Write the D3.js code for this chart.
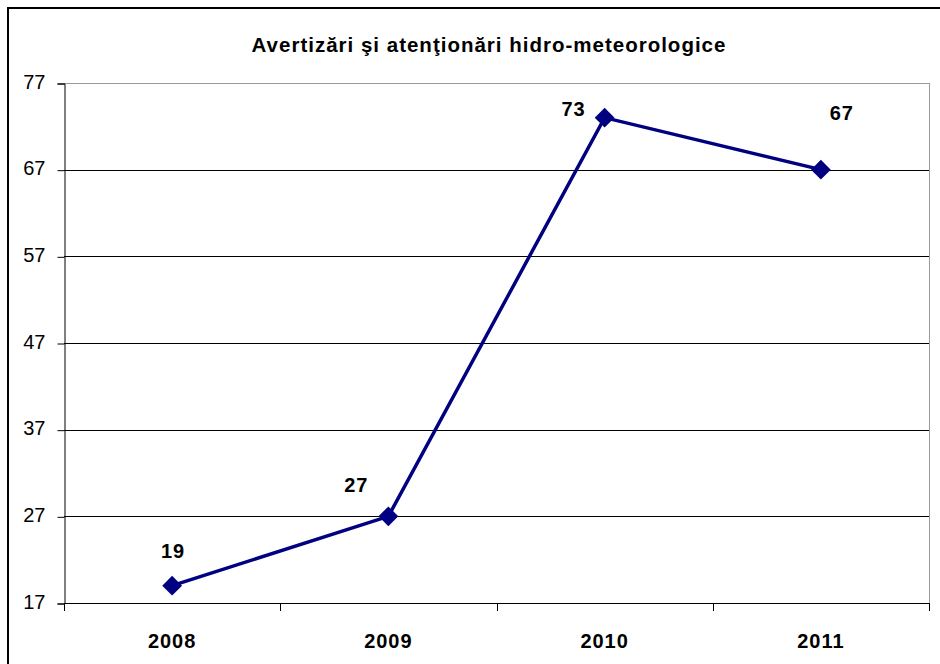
<!DOCTYPE html>
<html>
<head>
<meta charset="utf-8">
<script src="https://cdn.jsdelivr.net/npm/d3@7"></script>
<style>
  body { margin: 0; background: #fff; }
  svg { display: block; font-family: "Liberation Sans", Arial, sans-serif; }
</style>
</head>
<body>
<div id="chart"></div>
<script>
var title = "Avertizări şi atenţionări hidro-meteorologice";
var years = ["2008", "2009", "2010", "2011"];
var values = [19, 27, 73, 67];
var yTicks = [17, 27, 37, 47, 57, 67, 77];
// hand-placed label nudges (dx, dy from the marker)
var labelNudge = [[1, -28], [-32, -24], [-31, -2], [21, -50]];

var width = 940, height = 664,
    margins = {top: 83, right: 11, bottom: 61, left: 64};

var svg = d3.select("#chart").append("svg")
    .attr("width", width)
    .attr("height", height);

// outer chart frame (runs off the right and bottom edges)
svg.append("rect")
    .attr("x", 8).attr("y", 8)
    .attr("width", width + 20).attr("height", height + 20)
    .attr("fill", "none").attr("stroke", "#000").attr("stroke-width", 2);

svg.append("text")
    .attr("x", 489).attr("y", 52)
    .attr("text-anchor", "middle")
    .style("font-weight", "bold").style("font-size", "20.5px")
    .style("letter-spacing", "1px")
    .text(title);

var x = d3.scaleBand()
    .domain(years)
    .range([margins.left, width - margins.right]);

var y = d3.scaleLinear()
    .domain([17, 77])
    .range([height - margins.bottom, margins.top]);

var plotRight = width - margins.right;

// grid lines
svg.append("g").selectAll("line")
    .data(yTicks.slice(1))
    .enter().append("line")
    .attr("x1", margins.left).attr("x2", plotRight)
    .attr("y1", function(d) { return Math.round(y(d)) + 0.5; })
    .attr("y2", function(d) { return Math.round(y(d)) + 0.5; })
    .attr("stroke", function(d) { return d === 77 ? "#999" : "#000"; })
    .attr("stroke-width", 1);

svg.append("line")
    .attr("x1", plotRight + 0.5).attr("x2", plotRight + 0.5)
    .attr("y1", margins.top).attr("y2", height - margins.bottom)
    .attr("stroke", "#999");

var yAxis = d3.axisLeft(y)
    .tickValues(yTicks)
    .tickSize(7)
    .tickPadding(12);

svg.append("g")
    .attr("class", "y axis")
    .attr("transform", "translate(" + (margins.left + 0.5) + ",0.5)")
    .call(yAxis)
    .call(function(g) {
        g.selectAll("text").style("font-size", "20px").attr("dy", "0.24em").attr("fill", "#000");
        g.selectAll("line, path").attr("stroke", "#000");
    });

var bounds = years.map(function(d) { return x(d); }).concat([plotRight]);

var xg = svg.append("g")
    .attr("class", "x axis");

xg.append("line")
    .attr("x1", margins.left).attr("x2", plotRight)
    .attr("y1", height - margins.bottom + 0.5).attr("y2", height - margins.bottom + 0.5)
    .attr("stroke", "#000");

xg.selectAll(".tick").data(bounds)
    .enter().append("line")
    .attr("class", "tick")
    .attr("x1", function(d) { return Math.round(d) + 0.5; })
    .attr("x2", function(d) { return Math.round(d) + 0.5; })
    .attr("y1", height - margins.bottom)
    .attr("y2", height - margins.bottom + 8)
    .attr("stroke", "#000");

xg.selectAll("text").data(years)
    .enter().append("text")
    .attr("x", function(d) { return x(d) + x.bandwidth() / 2; })
    .attr("y", height - margins.bottom + 45)
    .attr("text-anchor", "middle")
    .style("font-weight", "bold").style("font-size", "20px")
    .style("letter-spacing", "1px")
    .text(function(d) { return d; });

var pts = years.map(function(d, i) {
    return {year: d, value: values[i], nudge: labelNudge[i]};
});

var line = d3.line()
    .x(function(d) { return x(d.year) + x.bandwidth() / 2; })
    .y(function(d) { return y(d.value); });

svg.append("path")
    .datum(pts)
    .attr("d", line)
    .attr("fill", "none")
    .attr("stroke", "#000080")
    .attr("stroke-width", 3.5);

svg.selectAll(".marker").data(pts)
    .enter().append("path")
    .attr("class", "marker")
    .attr("d", d3.symbol().type(d3.symbolDiamond2).size(250))
    .attr("transform", function(d) {
        return "translate(" + (x(d.year) + x.bandwidth() / 2) + "," + y(d.value) + ")";
    })
    .attr("fill", "#000080");

svg.selectAll(".label").data(pts)
    .enter().append("text")
    .attr("class", "label")
    .attr("x", function(d) { return x(d.year) + x.bandwidth() / 2 + d.nudge[0]; })
    .attr("y", function(d) { return y(d.value) + d.nudge[1]; })
    .attr("text-anchor", "middle")
    .style("font-weight", "bold").style("font-size", "20px")
    .style("letter-spacing", "1px")
    .text(function(d) { return d.value; });
</script>
</body>
</html>
